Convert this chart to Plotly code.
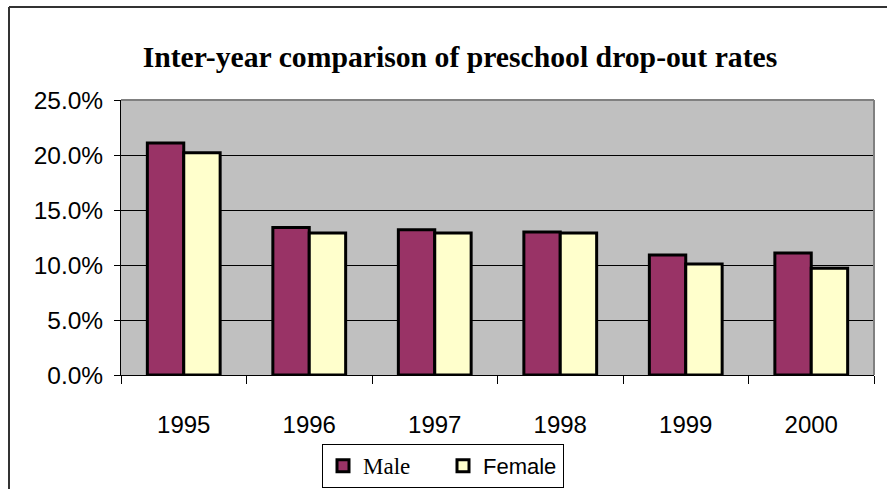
import plotly.graph_objects as go

years = ["1995", "1996", "1997", "1998", "1999", "2000"]
male = [0.211, 0.134, 0.132, 0.130, 0.109, 0.111]
female = [0.202, 0.129, 0.129, 0.129, 0.101, 0.097]
y_ticks = [0, 0.05, 0.10, 0.15, 0.20, 0.25]

W, H = 887, 489
L, R, T, B = 121, 13, 100, 114
pw = W - L - R
ph = H - T - B

def px_x(x):
    return (x - L) / pw

def px_y(y):
    return (H - B - y) / ph

fig = go.Figure()
fig.add_trace(go.Bar(
    x=years, y=male,
    name="<span style='font-family:Liberation Serif;font-size:23px'>Male</span>",
    marker=dict(color="#993366", line=dict(color="black", width=3)),
))
fig.add_trace(go.Bar(
    x=years, y=female,
    name="Female",
    marker=dict(color="#FFFFCC", line=dict(color="black", width=3)),
))

fig.update_layout(
    width=W, height=H,
    margin=dict(l=L, r=R, t=T, b=B, autoexpand=False),
    paper_bgcolor="white",
    plot_bgcolor="#C0C0C0",
    barmode="group",
    bargap=0.42,
    bargroupgap=0,
    title=dict(
        text="<b>Inter-year comparison of preschool drop-out rates</b>",
        font=dict(family="Liberation Serif", size=29.7, color="black"),
        x=460 / W, xanchor="center",
        y=1 - 57 / H, yanchor="middle",
    ),
    font=dict(family="Liberation Sans", color="black"),
    showlegend=True,
    legend=dict(
        orientation="h",
        x=px_x(322), xanchor="left",
        y=px_y(444), yanchor="top",
        bgcolor="white",
        bordercolor="black",
        borderwidth=1,
        entrywidth=75,
        font=dict(family="Liberation Sans", size=22, color="black"),
        traceorder="normal",
    ),
    xaxis=dict(
        type="category",
        automargin=False,
        tickson="boundaries",
        ticks="outside",
        ticklen=8,
        tickcolor="black",
        showline=True,
        linecolor="black",
        linewidth=1,
        showgrid=False,
        tickfont=dict(family="Liberation Sans", size=24, color="black"),
        ticklabelstandoff=28,
    ),
    yaxis=dict(
        range=[0, 0.25],
        automargin=False,
        tickvals=y_ticks,
        tickformat=".1%",
        ticks="outside",
        ticklen=6,
        tickcolor="black",
        showline=True,
        linecolor="black",
        linewidth=1,
        showgrid=True,
        gridcolor="black",
        gridwidth=1,
        zeroline=False,
        tickfont=dict(family="Liberation Sans", size=24.5, color="black"),
        ticklabelstandoff=6,
    ),
    shapes=[
        dict(type="line", xref="paper", yref="paper", x0=0, x1=1, y0=1, y1=1,
             line=dict(color="#808080", width=2), layer="above"),
        dict(type="line", xref="paper", yref="paper", x0=1, x1=1, y0=0, y1=1,
             line=dict(color="#808080", width=2), layer="above"),
        dict(type="line", xref="paper", yref="paper",
             x0=px_x(9), x1=px_x(890), y0=px_y(7), y1=px_y(7),
             line=dict(color="#333333", width=2)),
        dict(type="line", xref="paper", yref="paper",
             x0=px_x(9), x1=px_x(9), y0=px_y(7), y1=px_y(492),
             line=dict(color="#333333", width=2)),
    ],
)

fig.write_html(
    "out.html",
    config={"displayModeBar": False},
    post_script="document.body.style.margin='0';document.body.style.overflow='hidden';",
)
